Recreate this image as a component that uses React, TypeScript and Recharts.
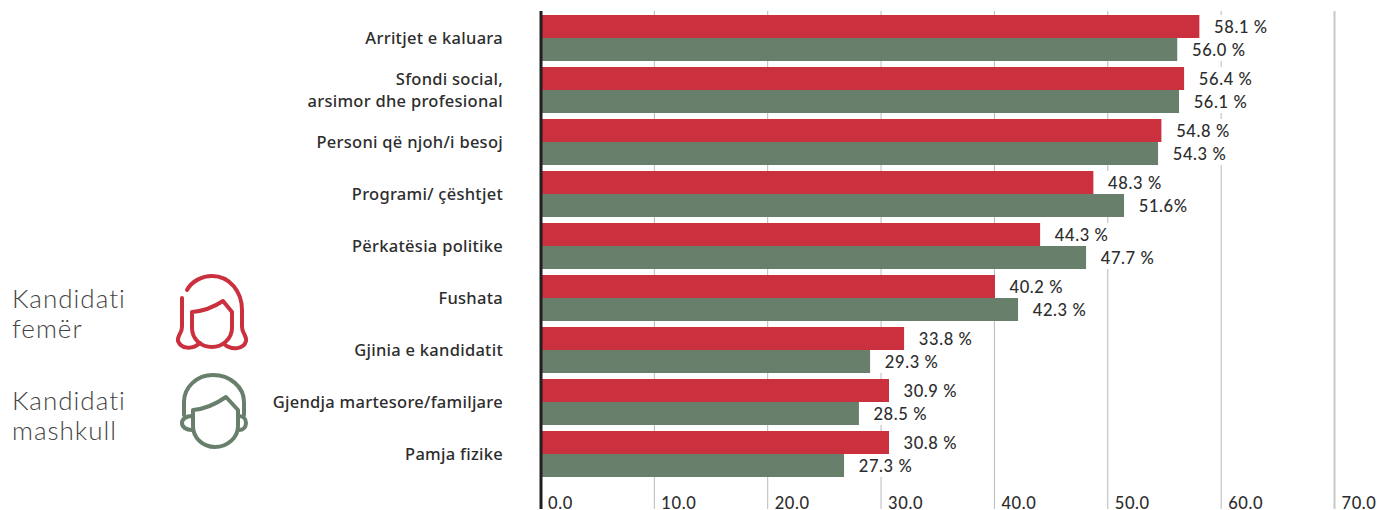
import { BarChart, Bar, XAxis, YAxis, CartesianGrid, LabelList, ReferenceLine } from "recharts";

const categories = [
  "Arritjet e kaluara",
  "Sfondi social,\narsimor dhe profesional",
  "Personi që njoh/i besoj",
  "Programi/ çështjet",
  "Përkatësia politike",
  "Fushata",
  "Gjinia e kandidatit",
  "Gjendja martesore/familjare",
  "Pamja fizike",
];
// bar lengths as drawn in the picture (they differ slightly from the printed labels)
const femaleValues = [58.1, 56.75, 54.75, 48.75, 44.05, 40.05, 32.05, 30.7, 30.7];
const maleValues = [56.15, 56.3, 54.45, 51.45, 48.1, 42.1, 29.05, 28.05, 26.75];
const femaleLabels = ["58.1 %", "56.4 %", "54.8 %", "48.3 %", "44.3 %", "40.2 %", "33.8 %", "30.9 %", "30.8 %"];
const maleLabels = ["56.0 %", "56.1 %", "54.3 %", "51.6%", "47.7 %", "42.3 %", "29.3 %", "28.5 %", "27.3 %"];
const ticks = [0, 10, 20, 30, 40, 50, 60, 70];

const RED = "#cb303e";
const GREEN = "#687f6c";
const TEXT = "#2d2d2d";

const data = categories.map((name, i) => ({
  name,
  female: femaleValues[i],
  male: maleValues[i],
}));

const CategoryTick = ({ y, payload }: any) => {
  const lines = String(payload.value).split("\n");
  const first = y + 6 - (lines.length - 1) * 11;
  return (
    <text x={503} y={first} textAnchor="end" fontFamily="Noto Sans" fontSize={16.5} letterSpacing={0.27} fontWeight={500} fill={TEXT}>
      {lines.map((l, i) => (
        <tspan key={i} x={503} dy={i === 0 ? 0 : 22}>
          {l}
        </tspan>
      ))}
    </text>
  );
};

const ValueTick = ({ x, payload }: any) => (
  <text x={x + 7} y={509} fontFamily="Lato" fontSize={16.5} letterSpacing={0.6} fontWeight={500} fill={TEXT}>
    {payload.value.toFixed(1)}
  </text>
);

// white box behind the label hides the grid line, like in the original
const makeLabel = (labels: string[]) => (props: any) => {
  const { x, y, width, height, index } = props;
  const end = x + width;
  return (
    <g>
      <rect x={end} y={y} width={70} height={height} fill="#fff" />
      <text x={end + 14.5} y={y + height / 2 + 6} fontFamily="Lato" fontSize={16.5} letterSpacing={0.6} fontWeight={500} fill={TEXT}>
        {labels[index]}
      </text>
    </g>
  );
};

const Legend = () => (
  <svg width={270} height={510} style={{ position: "absolute", left: 0, top: 0 }}>
    <g fontFamily="Lato" fontWeight={300} fontSize={26} letterSpacing={1} fill="#444">
      <text x={12} y={308}>Kandidati</text>
      <text x={12} y={338}>femër</text>
      <text x={12} y={410}>Kandidati</text>
      <text x={12} y={440}>mashkull</text>
    </g>
    <g fill="none" stroke={RED} strokeWidth={4} strokeLinecap="round" strokeLinejoin="round">
      <path d="M187 290 C192 281 202 276 212 276 C230 276 242 292 242 310 L242 327 C242 333 247 336 246 341 C244 349 232 351 224 344" />
      <path d="M182 298 L182 327 C182 333 177 336 178 341 C181 349 192 350 200 343" />
      <path d="M192 312 C204 311 214 307 223 301 L232 312 L232 328 C232 339 222 347 212 347 C201 347 192 339 192 328 Z" />
    </g>
    <g fill="none" stroke={GREEN} strokeWidth={4} strokeLinecap="round" strokeLinejoin="round">
      <path d="M184 415 L184 402 C184 387 197 375 213 375 C230 375 244 387 244 402 L244 415" />
      <path d="M193 410 C205 409 216 404 226 397 L238 410 L238 426 C238 438 227 447 215 447 C203 447 193 438 193 426 Z" />
      <path d="M192 416 C186 416 182 419 182 423 C182 427 186 430 192 430" />
      <path d="M239 416 C243 416 246 419 246 423 C246 427 243 430 239 430" />
    </g>
  </svg>
);

export default function App() {
  return (
    <div style={{ position: "absolute", left: 0, top: 0, width: 1379, height: 510, background: "#fff", overflow: "hidden" }}>
      <Legend />
      <BarChart
        style={{ position: "absolute", left: 0, top: 0 }}
        width={1379}
        height={510}
        data={data}
        layout="vertical"
        barSize={23}
        barGap={0}
        margin={{ top: 11, right: 44.5, bottom: 0, left: 0 }}
      >
        <CartesianGrid horizontal={false} stroke="#b9b9b9" strokeWidth={1} />
        <XAxis
          type="number"
          domain={[0, 70]}
          ticks={ticks}
          height={1}
          axisLine={false}
          tickLine={false}
          tick={<ValueTick />}
          interval={0}
        />
        <YAxis
          type="category"
          dataKey="name"
          width={541}
          padding={{ top: 1, bottom: 29 }}
          axisLine={false}
          tickLine={false}
          tick={<CategoryTick />}
          interval={0}
        />
        <ReferenceLine x={70} stroke="#c8c8c8" strokeWidth={2} />
        <Bar dataKey="female" fill={RED} isAnimationActive={false}>
          <LabelList dataKey="female" content={makeLabel(femaleLabels)} />
        </Bar>
        <Bar dataKey="male" fill={GREEN} isAnimationActive={false}>
          <LabelList dataKey="male" content={makeLabel(maleLabels)} />
        </Bar>
        <ReferenceLine x={0} stroke="#231f20" strokeWidth={3} />
      </BarChart>
    </div>
  );
}
